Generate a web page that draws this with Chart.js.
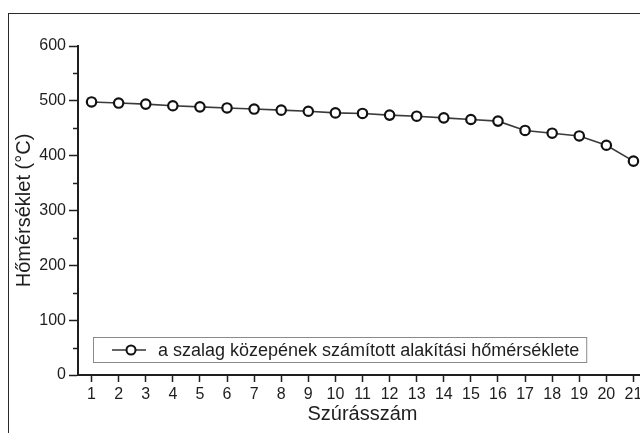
<!DOCTYPE html>
<html>
<head>
<meta charset="utf-8">
<script src="https://cdn.jsdelivr.net/npm/chart.js@4/dist/chart.umd.min.js"></script>
<style>
  html, body { margin: 0; padding: 0; background: #fff; overflow: hidden; }
  #wrap { position: relative; width: 640px; height: 433px; overflow: hidden; }
  #frame { position: absolute; left: 8px; top: 13px; width: 700px; height: 500px; border: 1.5px solid #2a2a2a; box-sizing: border-box; }
  #box { position: absolute; left: 0; top: 0; width: 660px; height: 433px; }
</style>
</head>
<body>
<div id="wrap">
  <div id="frame"></div>
  <div id="box"><canvas id="myChart" width="660" height="433"></canvas></div>
</div>
<script>
// szúrásszám (pass number)
var passes = ['1','2','3','4','5','6','7','8','9','10','11','12','13','14','15','16','17','18','19','20','21'];
// calculated forming temperature at strip centre, °C
var temps = [498, 496, 494, 491, 489, 487, 485, 483, 481, 478, 477, 474, 472, 469, 466, 463, 446, 441, 436, 419, 390];
var yTicks = [0, 100, 200, 300, 400, 500, 600];
var yMinor = [50, 150, 250, 350, 450, 550];
var legendText = 'a szalag közepének számított alakítási hőmérséklete';

var font = '"Liberation Sans", Arial, sans-serif';
var ink = '#1e1e1e';

/* minor ticks on the y axis */
var minorTicks = {
	id: 'minorTicks',
	afterDraw: function(chart) {
		var ctx = chart.ctx, y = chart.scales.y, left = chart.chartArea.left;
		ctx.save();
		ctx.strokeStyle = ink;
		ctx.lineWidth = 1.5;
		yMinor.forEach(function(v) {
			var py = Math.round(y.getPixelForValue(v)) + 0.5;
			ctx.beginPath();
			ctx.moveTo(left - 5, py);
			ctx.lineTo(left, py);
			ctx.stroke();
		});
		ctx.restore();
	}
};

/* legend box inside the plot, bottom left */
var boxLegend = {
	id: 'boxLegend',
	afterDraw: function(chart) {
		var ctx = chart.ctx, area = chart.chartArea;
		ctx.save();
		ctx.font = '18px ' + font;
		var tw = ctx.measureText(legendText).width;
		var x0 = area.left + 15, h = 25, y0 = area.bottom - 13 - h;
		var w = 65 + tw + 7;
		ctx.fillStyle = '#fff';
		ctx.fillRect(x0, y0, w, h);
		ctx.strokeStyle = '#8a8a8a';
		ctx.lineWidth = 1;
		ctx.strokeRect(x0 + 0.5, y0 + 0.5, w, h);
		var cy = y0 + h / 2 + 0.5;
		ctx.strokeStyle = '#333';
		ctx.lineWidth = 1.5;
		ctx.beginPath();
		ctx.moveTo(x0 + 19, cy);
		ctx.lineTo(x0 + 53, cy);
		ctx.stroke();
		ctx.beginPath();
		ctx.arc(x0 + 38, cy, 4.5, 0, Math.PI * 2);
		ctx.fillStyle = '#fff';
		ctx.fill();
		ctx.strokeStyle = '#111';
		ctx.lineWidth = 2;
		ctx.stroke();
		ctx.fillStyle = ink;
		ctx.textBaseline = 'middle';
		ctx.fillText(legendText, x0 + 65, cy + 1);
		ctx.restore();
	}
};

var ctx = document.getElementById('myChart').getContext('2d');
var myChart = new Chart(ctx, {
	type: 'line',
	data: {
		labels: passes,
		datasets: [{
			data: temps,
			borderColor: '#3a3a3a',
			borderWidth: 1.6,
			pointRadius: 4.7,
			pointBorderWidth: 2.2,
			pointBorderColor: '#111',
			pointBackgroundColor: '#fff',
			tension: 0
		}]
	},
	options: {
		responsive: false,
		animation: false,
		events: [],
		layout: { padding: { top: 46, right: 13, left: 0, bottom: 0 } },
		plugins: { legend: { display: false }, tooltip: { enabled: false } },
		scales: {
			x: {
				type: 'category',
				offset: true,
				afterFit: function(s) { s.height = 58; },
				grid: { drawOnChartArea: false, drawTicks: true, tickLength: 7, tickWidth: 1.5, tickColor: ink, offset: false },
				border: { color: ink, width: 2 },
				ticks: { color: ink, font: { family: font, size: 16 }, padding: 3, maxRotation: 0, autoSkip: false },
				title: { display: true, text: 'Szúrásszám', color: ink, font: { family: font, size: 20 }, padding: { top: 0, bottom: 7 } }
			},
			y: {
				min: 0,
				max: 600,
				afterFit: function(s) { s.width = 78; },
				afterBuildTicks: function(s) { s.ticks = yTicks.map(function(v) { return { value: v }; }); },
				grid: { drawOnChartArea: false, drawTicks: true, tickLength: 9, tickWidth: 1.5, tickColor: ink },
				border: { color: ink, width: 2 },
				ticks: { color: ink, font: { family: font, size: 16 }, padding: 3 },
				title: { display: true, text: 'Hőmérséklet (°C)', color: ink, font: { family: font, size: 20 }, padding: { top: 12, bottom: 0 } }
			}
		}
	},
	plugins: [minorTicks, boxLegend]
});
</script>
</body>
</html>
